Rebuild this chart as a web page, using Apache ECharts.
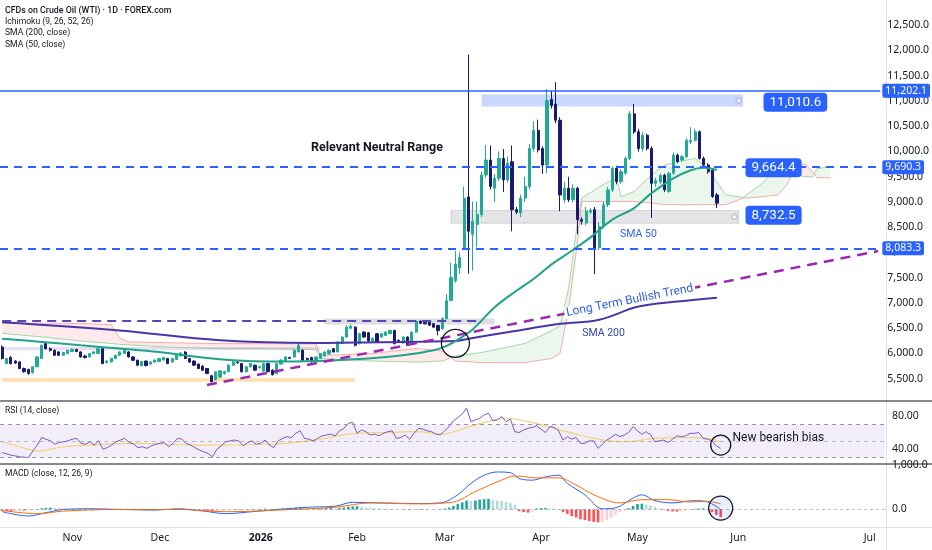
<!DOCTYPE html>
<html><head><meta charset="utf-8">
<script src="https://cdn.jsdelivr.net/npm/echarts/dist/echarts.min.js"></script>
<style>html,body{margin:0;padding:0;background:#fff}#c{width:932px;height:550px}</style>
</head><body><div id="c"></div>
<script>
// ---------------- DATA ----------------
const firstDate = [2025, 9, 10];      // first bar: 10 Oct 2025 (weekday bars)
const totalSlots = 202;               // bars + empty future slots (calendar days)
// [open, close, low, high]
const candles = [
[6129,5900,5880,6160],[5801,5900,5790,5915],[5920,5801,5780,5950],[5850,5810,5790,5870],[5834,5703,5690,5845],
[5703,5640,5620,5720],[5684,5605,5580,5700],[5618,5736,5600,5750],[5736,5932,5730,5945],[5900,6162,5890,6180],
[6195,6096,6080,6230],[6096,6064,6040,6120],[6064,5965,5950,6080],[6031,5965,5950,6050],[5965,6020,5950,6035],
[6000,6064,5990,6075],[6040,6085,6030,6100],[6080,6040,6025,6095],[6031,5932,5920,6045],[5950,5920,5900,5975],
[5932,5998,5920,6010],[5998,6031,5985,6045],[5998,6096,5990,6110],[6096,5801,5790,6110],[5820,5850,5800,5870],
[5834,5900,5820,5915],[5900,5965,5890,5980],[5965,6031,5950,6045],[6000,6064,5990,6080],[6031,5932,5920,6045],
[5932,5867,5850,5945],[5867,5769,5750,5880],[5760,5840,5745,5855],[5850,5760,5745,5860],[5790,5834,5775,5850],
[5830,5870,5815,5885],[5840,5900,5830,5915],[5870,5920,5860,5935],[5900,5801,5790,5915],[5830,5900,5820,5915],
[5880,5965,5870,5980],[5950,6010,5940,6025],[6030,5900,5890,6045],[5900,5830,5815,5915],[5850,5769,5755,5865],
[5790,5703,5690,5800],[5750,5670,5655,5765],[5703,5605,5590,5715],[5560,5441,5430,5575],[5480,5638,5470,5650],
[5530,5657,5520,5670],[5600,5640,5585,5660],[5640,5770,5630,5785],[5769,5834,5760,5850],[5830,5815,5800,5845],
[5801,5638,5625,5815],[5638,5736,5625,5750],[5736,5801,5725,5815],[5769,5670,5655,5785],[5720,5740,5700,5760],
[5650,5801,5640,5815],[5801,5640,5625,5815],[5670,5580,5565,5685],[5600,5801,5590,5815],[5790,5870,5780,5885],
[5850,5932,5840,5945],[5920,5905,5890,5935],[5932,6064,5920,6080],[6031,6162,6020,6227],[6064,5867,5850,6080],
[5900,5880,5860,5920],[5920,5834,5820,5935],[5850,5932,5840,5945],[5900,5998,5890,6010],[5950,6031,5940,6045],
[5990,6064,5980,6080],[6096,6031,6020,6110],[6031,6227,6020,6245],[6207,6326,6195,6340],[6326,6522,6315,6560],
[6500,6540,6480,6580],[6522,6162,6140,6540],[6195,6391,6180,6410],[6424,6326,6310,6440],[6410,6247,6230,6425],
[6247,6300,6235,6320],[6391,6227,6215,6405],[6326,6391,6315,6405],[6358,6424,6345,6440],[6391,6457,6380,6470],
[6457,6195,6180,6470],[6260,6230,6215,6280],[6207,6326,6195,6340],[6326,6162,6150,6340],[6195,6424,6185,6440],
[6424,6640,6410,6660],[6640,6600,6585,6660],[6620,6590,6575,6650],[6620,6560,6545,6640],[6590,6522,6505,6605],
[6555,6456,6358,6570],[6490,6686,6470,6720],[6686,7046,6680,7176],[7046,7504,7040,7800],[7439,7766,7400,8030],
[7700,7900,7570,8000],[8094,9076,8050,9300],[9100,8420,7580,11920],[8360,8620,7640,9010],[8553,8749,8100,9010],
[8749,9535,8700,9600],[9535,9830,9480,10125],[9830,9306,9250,10120],[9273,9470,9000,9550],[9470,9863,9420,10000],
[9863,9437,9200,10050],[9437,9765,9380,9900],[9797,8847,8420,10120],[8847,8800,8760,8900],[8782,9077,8700,9150],
[9077,9306,9000,9500],[9306,10059,9250,10150],[10059,10419,10000,10600],[10419,10030,9980,10630],[10059,9732,9560,10100],
[9732,11009,9570,11240],[11030,10910,10850,11200],[10940,10620,10560,11370],[10620,9140,8815,10680],[9044,9273,8980,9400],
[9273,9044,9000,9500],[9044,9273,8990,9350],[9273,8650,8360,9300],[8650,8620,8550,8700],[8585,8815,8540,8900],
[8800,8830,8760,8880],[8847,8094,7570,8900],[8094,8520,8050,8600],[8520,8945,8480,9000],[8945,9240,8900,9300],
[9240,9666,9200,9700],[9666,9404,9350,9720],[9404,9600,9360,9650],[9570,9863,9540,9900],[9863,10747,9830,10800],
[10747,10390,10350,10940],[10390,10060,10000,10450],[10060,10320,10000,10380],[10320,10060,10020,10350],[10060,9370,8683,10100],
[9370,9420,9300,9480],[9400,9530,9360,9560],[9530,9240,9200,9560],[9210,9570,9180,9600],[9570,9930,9540,9980],
[9930,9800,9770,9960],[9830,9895,9800,9930],[9895,10220,9870,10260],[10190,10220,10150,10480],[10220,10390,10200,10450],
[10390,9863,9840,10420],[9863,9732,9700,9900],[9732,9600,9560,9770],[9630,9110,9080,9660],[9140,8977.5,8880,9180]
];
// [bar index, value]
const sma50 = [[0,6293],[9,6230],[18,6162],[27,6100],[36,6031],[45,5932],[54,5860],[61,5840],[72,5850],[84,5900],
  [92,5965],[99,6064],[102,6150],[105,6300],[108,6480],[113,6914],[118,7242],[122,7480],[126,7760],[130,7995],
  [135,8300],[140,8651],[145,8880],[149,9175],[154,9470],[158,9630],[161,9679],[164,9633]];
const sma200 = [[0,6620],[27,6456],[50,6262],[72,6208],[86,6225],[104,6247],[107,6292],[117,6436],[128,6587],
  [137,6670],[146,6930],[155,7030],[164,7105]];
// Ichimoku leading spans (already shifted 26 bars forward)
const cloudX = [0,10,20,25,27,29,40,50,60,72,73,85,95,101,104,110,120,126,128,130,132,133,136,139,141,142,145,149,152,155,159,162,164,166,170,174,178,180,182,184,186,187,190];
const spanA  = [6400,6320,6230,6200,6180,6170,6120,6096,6096,6080,5900,5850,5830,5850,5950,6020,6200,6450,6550,7300,8600,9077,9240,9400,9470,9100,9208,9535,9730,9800,9863,9666,9400,9142,9090,9340,9666,9720,9560,9500,9500,9660,9700];
const spanB  = [6600,6600,6590,6570,6300,6230,6210,6195,6195,6190,5960,6000,6100,6050,5850,5820,5820,5900,6000,6900,8200,9011,9011,9011,9011,9011,9011,8980,8950,8946,8946,8946,8946,8946,9076,9100,9142,9340,9650,9764,9600,9480,9480];
const rsi = [[0,36],[2,33],[4,31],[6,30],[7,38],[8,45],[9,54],[10,52],[11,50],[12,46],[13,48],[15,50],[16,52],[17,53],[18,47],[19,46],[20,49],[21,45],[22,50],[23,40],[24,42],[25,45],[26,49],[27,51],[28,53],[29,48],[30,46],[31,42],[32,43],[33,41],[34,44],[35,46],[36,47],[37,48],[38,43],[39,47],[40,53],[41,52],[42,47],[43,45],[44,42],[45,39],[46,37],[47,35],[48,31],[49,40],[50,44],[51,49],[52,50],[53,51],[54,50],[55,44],[56,48],[57,50],[58,46],[59,47],[60,51],[61,45],[62,42],[63,50],[64,53],[65,55],[66,54],[67,59],[68,62],[69,53],[70,52],[71,50],[72,53],[73,56],[74,57],[75,58],[76,56],[77,62],[78,65],[79,71],[80,72],[81,59],[82,63],[83,61],[84,57],[85,58],[86,56],[87,59],[88,61],[89,62],[90,53],[91,54],[92,57],[93,52],[94,59],[95,65],[96,64],[97,62],[98,61],[99,58],[100,57],[101,62],[102,67],[103,74],[104,78],[105,82],[106,89],[107,73],[108,75],[109,77],[110,81],[111,83],[112,74],[113,75],[114,79],[115,73],[116,76],[117,61],[118,60],[119,63],[120,65],[121,66],[122,68],[123,64],[124,60],[125,67],[126,66],[127,62],[128,51],[129,55],[130,52],[131,54],[132,47],[133,47],[134,50],[135,50],[136,41],[137,46],[138,51],[139,54],[140,58],[141,55],[142,57],[143,60],[144,67],[145,62],[146,58],[147,61],[148,57],[149,49],[150,50],[151,51],[152,48],[153,52],[154,56],[155,55],[156,56],[157,59],[158,59],[159,60],[160,53],[161,52],[162,50],[163,44],[164,41]];
const rsiMa = [[0,49],[4,43],[8,38],[14,43],[20,45],[30,47],[45,45],[61,46],[70,50],[81,59],[88,60],[95,61],[100,58],[105,64],[110,72],[115,77],[120,73],[126,65],[131,58],[136,52],[142,49],[149,53],[155,54],[159,54],[164,49]];
const macd = [[0,-50],[6,-147],[10,-73],[14,0],[20,15],[27,0],[35,-15],[40,15],[46,-37],[51,-95],[57,-51],[63,0],[70,51],[76,73],[80,161],[86,147],[95,132],[100,147],[104,330],[107,586],[110,769],[113,843],[116,828],[118,696],[121,659],[124,733],[127,769],[129,586],[133,330],[137,15],[140,37],[144,256],[146,330],[149,198],[153,147],[158,198],[161,168],[164,0]];
const signal = [[0,-22],[8,-95],[14,-37],[27,0],[40,0],[51,-51],[63,-15],[76,51],[84,147],[95,125],[103,168],[108,403],[114,659],[117,754],[122,710],[127,710],[131,549],[135,330],[141,147],[146,220],[152,220],[157,168],[161,183],[164,125]];
const hist = [
-30,-35,-40,-35,-25,-30,-20,-10,10,25,
35,40,35,30,25,20,15,10,8,5,
3,5,8,-5,-8,-5,0,3,5,2,
-3,-8,-10,-8,-5,0,3,5,0,5,
10,12,5,-3,-10,-18,-25,-35,-45,-35,
-25,-15,-5,5,10,5,8,12,10,12,
18,12,8,15,22,28,30,35,40,30,
25,20,22,25,28,30,28,35,45,60,
70,72,55,50,42,30,25,20,18,15,
5,0,-5,-12,-5,8,10,8,5,3,
8,20,45,80,120,160,200,190,200,220,
230,240,210,200,190,170,150,110,-40,-60,
-70,-50,20,30,35,30,20,10,-60,-100,
-150,-180,-220,-240,-260,-280,-290,-280,-230,-180,
-120,-60,-20,30,80,120,130,110,90,60,
20,-10,-30,-45,-50,-35,-20,-10,15,20,
25,-10,-60,-120,-170];
const priceTicks = [5500,6000,6500,7000,7500,8000,8500,9000,9500,10000,10500,11000,11500,12000,12500];
const rsiTicks = [40,80];
const macdTicks = [0,1000];
const resistanceLine = 11202.1;
const rangeTopLine = 9690.3;
const supportLine = 8083.3;
const lastClose = 8977.5;
const breakoutLevel = 6643;
const trendStart = [47,5376], trendEnd = [201,8028];
const zoneTop = [110,11130,170,10890];
const zoneMid = [103,8834,169,8579];
const zoneOld = [74,6692,113,6574];
const zoneLav = [0,6130,73,6064];
const zoneOrange = [0,5514,81,5440];
const boxLabels = [['11,010.6',182,10976],['9,664.4',177,9679],['8,732.5',177,8736]];

// ---------------- BUILD ----------------
const cats = [];
(function(){
  let d = new Date(Date.UTC(firstDate[0], firstDate[1], firstDate[2]));
  const f = x => x.toISOString().slice(0,10);
  while (cats.length < candles.length) { const w = d.getUTCDay(); if (w!==0 && w!==6) cats.push(f(d)); d = new Date(d.getTime()+86400000); }
  while (cats.length < totalSlots) { cats.push(f(d)); d = new Date(d.getTime()+86400000); }
})();
const MN = ['Jan','Feb','Mar','Apr','May','Jun','Jul','Aug','Sep','Oct','Nov','Dec'];
const isMonthStart = i => i>0 && cats[i].slice(0,7) !== cats[i-1].slice(0,7);
const FONT = '"Noto Sans", "DejaVu Sans", sans-serif';
const NFONT = 'Roboto, "Noto Sans", sans-serif';
const fmt1 = v => v.toLocaleString('en-US',{minimumFractionDigits:1,maximumFractionDigits:1});
const BLUE = '#2962ff';
const tag = (txt, bg) => ({show:true, position:'end', distance:2, formatter:txt, color:'#fff', backgroundColor:bg,
  padding:[2,3,1,3], fontSize:10.5, fontFamily:FONT, borderRadius:2});
const cloudSegs = [];
for (let k=0;k<cloudX.length-1;k++) cloudSegs.push([cloudX[k],spanA[k],spanB[k],cloudX[k+1],spanA[k+1],spanB[k+1]]);
const histData = hist.map((v,i)=>{ const p = i>0?hist[i-1]:v; let c;
  if (v>=0) c = v>=p ? '#26a69a' : '#b2dfdb'; else c = v<=p ? '#ff5252' : '#ffcdd2';
  return {value:v, itemStyle:{color:c}}; });
const txt = (s, coord, extra) => Object.assign({coord, symbol:'circle', symbolSize:0,
  label:Object.assign({show:true, position:'inside', formatter:s, fontFamily:NFONT}, extra)});
const ring = (coord, size, fill) => ({coord, symbol:'circle', symbolSize:size,
  itemStyle:{color:fill||'rgba(0,0,0,0)', borderColor:'#131722', borderWidth:1.3}, label:{show:false}});

const xBase = (gi, show) => ({type:'category', gridIndex:gi, data:cats, boundaryGap:true, show:show,
  axisLine:{show:false}, axisTick:{show:false}, splitLine:{show:false}});
const xAxis2 = xBase(2, true);
xAxis2.axisLabel = {interval:(i)=>isMonthStart(i), fontSize:10.5, color:'#131722', fontFamily:FONT, margin:8,
  formatter:(v)=>{ const m = +v.slice(5,7); return m===1 ? '{b|'+v.slice(0,4)+'}' : MN[m-1]; },
  rich:{b:{fontWeight:'bold', fontSize:10.5, color:'#131722', fontFamily:FONT}}};

const chart = echarts.init(document.getElementById('c'), null, {renderer:'canvas'});
chart.setOption({
  animation:false, backgroundColor:'#ffffff',
  textStyle:{fontFamily:FONT},
  grid:[
    {left:0, right:47, top:-3, height:407},
    {left:0, right:47, top:399, height:67},
    {left:0, right:47, top:465, height:60}
  ],
  xAxis:[xBase(0,false), xBase(1,false), xAxis2],
  yAxis:[
    {type:'value', gridIndex:0, position:'right', min:5000, max:13000, interval:500, scale:true,
     axisLine:{show:false}, axisTick:{show:false}, splitLine:{show:false},
     axisLabel:{fontSize:10.5, color:'#131722', fontFamily:FONT, margin:7,
       formatter:v=>priceTicks.indexOf(v)>=0 ? fmt1(v) : ''}},
    {type:'value', gridIndex:1, position:'right', min:20, max:100, interval:20,
     axisLine:{show:false}, axisTick:{show:false}, splitLine:{show:false},
     axisLabel:{fontSize:10.5, color:'#131722', fontFamily:FONT, margin:7,
       formatter:v=>rsiTicks.indexOf(v)>=0 ? v.toFixed(2) : ''}},
    {type:'value', gridIndex:2, position:'right', min:-350, max:1000, splitNumber:3,
     axisLine:{show:false}, axisTick:{show:false}, splitLine:{show:false},
     axisLabel:{fontSize:10.5, color:'#131722', fontFamily:FONT, margin:7,
       formatter:v=>macdTicks.indexOf(v)>=0 ? fmt1(v) : ''}}
  ],
  series:[
    {type:'custom', name:'cloud', xAxisIndex:0, yAxisIndex:0, data:cloudSegs, clip:true, silent:true, z:1,
     encode:{x:[0,3], y:[1,2,4,5]},
     renderItem:(params, api)=>{
       const a0 = api.coord([api.value(0), api.value(1)]), b0 = api.coord([api.value(0), api.value(2)]);
       const a1 = api.coord([api.value(3), api.value(4)]), b1 = api.coord([api.value(3), api.value(5)]);
       const up = api.value(1)+api.value(4) >= api.value(2)+api.value(5);
       return {type:'polygon', shape:{points:[a0,a1,b1,b0]},
         style:{fill: up ? 'rgba(76,175,80,0.11)' : 'rgba(242,54,69,0.11)'}};
     }},
    {type:'line', name:'spanA', xAxisIndex:0, yAxisIndex:0, data:cloudX.map((x,k)=>[x,spanA[k]]),
     showSymbol:false, lineStyle:{color:'rgba(129,199,132,0.7)', width:1}, silent:true, z:1},
    {type:'line', name:'spanB', xAxisIndex:0, yAxisIndex:0, data:cloudX.map((x,k)=>[x,spanB[k]]),
     showSymbol:false, lineStyle:{color:'rgba(239,154,154,0.8)', width:1}, silent:true, z:1},
    {type:'candlestick', name:'WTI', xAxisIndex:0, yAxisIndex:0, data:candles, barWidth:'62%',
     itemStyle:{color:'#22ab94', color0:'#1c1a6e', borderColor:'#22ab94', borderColor0:'#1c1a6e', borderWidth:1},
     markArea:{silent:true, data:[
       [{coord:[zoneTop[0],zoneTop[1]], itemStyle:{color:'rgba(41,98,255,0.25)'}},{coord:[zoneTop[2],zoneTop[3]]}],
       [{coord:[zoneMid[0],zoneMid[1]], itemStyle:{color:'rgba(120,123,134,0.2)', borderColor:'rgba(120,123,134,0.25)', borderWidth:1}},{coord:[zoneMid[2],zoneMid[3]]}],
       [{coord:[zoneOld[0],zoneOld[1]], itemStyle:{color:'rgba(120,123,134,0.25)'}},{coord:[zoneOld[2],zoneOld[3]]}],
       [{coord:[zoneLav[0],zoneLav[1]], itemStyle:{color:'rgba(149,117,205,0.22)'}},{coord:[zoneLav[2],zoneLav[3]]}],
       [{coord:[zoneOrange[0],zoneOrange[1]], itemStyle:{color:'rgba(255,167,38,0.35)'}},{coord:[zoneOrange[2],zoneOrange[3]]}]
     ]},
     markLine:{silent:true, symbol:['none','none'], data:[
       {yAxis:resistanceLine, lineStyle:{color:BLUE, width:1.5, type:'solid'}, label:tag(fmt1(resistanceLine), BLUE)},
       {yAxis:rangeTopLine, lineStyle:{color:BLUE, width:2, type:[8,6]}, label:tag(fmt1(rangeTopLine), BLUE)},
       {yAxis:supportLine, lineStyle:{color:BLUE, width:2, type:[8,6]}, label:tag(fmt1(supportLine), BLUE)},
       {yAxis:lastClose, lineStyle:{opacity:0}, label:tag(fmt1(lastClose), '#131a4a')},
       [{coord:[0,breakoutLevel], lineStyle:{color:'#5b43b8', width:2, type:[9,6]}, label:{show:false}},{coord:[109,breakoutLevel]}],
       [{coord:trendStart, lineStyle:{color:'#9c27b0', width:2.5, type:[10,7]}, label:{show:false}},{coord:trendEnd}]
     ]},
     markPoint:{silent:true, z:6, data:[
       txt('Relevant Neutral Range',[86,10072],{fontSize:12.5, fontWeight:'bold', color:'#131722'}),
       txt('SMA 50',[146,8362],{fontSize:10.5, color:BLUE}),
       txt('SMA 200',[138,6397],{fontSize:10.5, color:'#2e45b8'}),
       txt('Long Term Bullish Trend',[144,7046],{fontSize:12, color:'#2f5fe0', rotate:11, backgroundColor:'#ffffff', padding:[0,2]}),
       ...boxLabels.map(b=>txt(b[0],[b[1],b[2]],{fontSize:13.5, color:'#fff', backgroundColor:BLUE, padding:[3,6,2,6], borderRadius:4})),
       ring([104,6201],28),
       {coord:[169,11010], symbol:'circle', symbolSize:5, itemStyle:{color:'#fff', borderColor:'#bbc8f5'}, label:{show:false}},
       {coord:[168,8706], symbol:'circle', symbolSize:5, itemStyle:{color:'#fff', borderColor:'#cccccc'}, label:{show:false}}
     ]}},
    {type:'line', name:'SMA 200', xAxisIndex:0, yAxisIndex:0, data:sma200, smooth:0.4, showSymbol:false,
     lineStyle:{color:'#4a35a8', width:2}, silent:true, z:3},
    {type:'line', name:'SMA 50', xAxisIndex:0, yAxisIndex:0, data:sma50, smooth:0.4, showSymbol:false,
     lineStyle:{color:'#20a386', width:2}, silent:true, z:3},
    {type:'line', name:'RSI MA', xAxisIndex:1, yAxisIndex:1, data:rsiMa, smooth:0.4, showSymbol:false,
     lineStyle:{color:'#f5d27a', width:1.2}, silent:true},
    {type:'line', name:'RSI', xAxisIndex:1, yAxisIndex:1, data:rsi, showSymbol:false,
     lineStyle:{color:'#7e57c2', width:1}, silent:true,
     markArea:{silent:true, data:[[{yAxis:30, itemStyle:{color:'rgba(126,87,194,0.1)'}},{yAxis:70}]]},
     markLine:{silent:true, symbol:['none','none'], label:{show:false}, data:[
       {yAxis:70, lineStyle:{color:'#9598a1', width:1, type:[4,4]}},
       {yAxis:50, lineStyle:{color:'rgba(120,123,134,0.45)', width:1, type:[4,4]}},
       {yAxis:30, lineStyle:{color:'#9598a1', width:1, type:[4,4]}}
     ]},
     markPoint:{silent:true, data:[
       ring([164,45],20),
       {coord:[166,53], symbol:'circle', symbolSize:0,
        label:{show:true, position:'right', distance:3, formatter:'New bearish bias', fontSize:12, color:'#131722', fontFamily:NFONT}}
     ]}},
    {type:'bar', name:'Histogram', xAxisIndex:2, yAxisIndex:2, data:histData, barWidth:'60%', silent:true,
     markLine:{silent:true, symbol:['none','none'], label:{show:false},
       data:[{yAxis:0, lineStyle:{color:'rgba(120,123,134,0.5)', width:1, type:[3,3]}}]}},
    {type:'line', name:'MACD', xAxisIndex:2, yAxisIndex:2, data:macd, smooth:0.35, showSymbol:false,
     lineStyle:{color:BLUE, width:1}, silent:true},
    {type:'line', name:'Signal', xAxisIndex:2, yAxisIndex:2, data:signal, smooth:0.35, showSymbol:false,
     lineStyle:{color:'#ff6d00', width:1}, silent:true,
     markPoint:{silent:true, data:[ring([164,30],24,'rgba(41,98,255,0.1)')]}}
  ],
  graphic:[
    {type:'line', shape:{x1:886.5, y1:0, x2:886.5, y2:550}, style:{stroke:'#e0e3eb', lineWidth:1}, silent:true},
    {type:'line', shape:{x1:0, y1:527.5, x2:932, y2:527.5}, style:{stroke:'#e0e3eb', lineWidth:1}, silent:true},
    {type:'line', shape:{x1:0, y1:401, x2:932, y2:401}, style:{stroke:'#5d606b', lineWidth:1.5}, silent:true},
    {type:'line', shape:{x1:0, y1:464, x2:932, y2:464}, style:{stroke:'#5d606b', lineWidth:1.5}, silent:true},
    {type:'text', left:5, top:6, silent:true, style:{text:'CFDs on Crude Oil (WTI) · 1D · FOREX.com', font:'500 8.8px '+NFONT, fill:'#131722'}},
    {type:'text', left:5, top:17, silent:true, style:{text:'Ichimoku (9, 26, 52, 26)', font:'8.6px '+NFONT, fill:'#131722'}},
    {type:'text', left:5, top:28.5, silent:true, style:{text:'SMA (200, close)', font:'8.6px '+NFONT, fill:'#131722'}},
    {type:'text', left:5, top:40, silent:true, style:{text:'SMA (50, close)', font:'8.6px '+NFONT, fill:'#131722'}},
    {type:'text', left:5, top:406, silent:true, style:{text:'RSI (14, close)', font:'8.5px '+NFONT, fill:'#131722'}},
    {type:'text', left:5, top:469, silent:true, style:{text:'MACD (close, 12, 26, 9)', font:'8.5px '+NFONT, fill:'#131722'}}
  ]
});
</script></body></html>
